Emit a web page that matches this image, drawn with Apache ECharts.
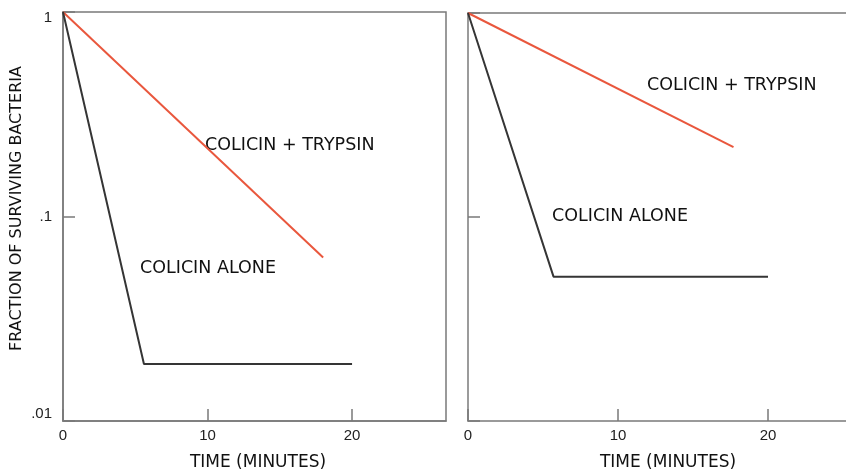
<!DOCTYPE html>
<html>
<head>
<meta charset="utf-8">
<script src="https://cdn.jsdelivr.net/npm/echarts@6/dist/echarts.min.js"></script>
<style>
  html, body { margin: 0; padding: 0; background: #fff; }
  #chart { width: 846px; height: 471px; }
</style>
</head>
<body>
<div id="chart"></div>
<script>
// data: [time in minutes, fraction surviving]
var leftTrypsin = [[0, 1], [18, 0.063]]
var leftAlone = [[0, 1], [5.6, 0.019], [20, 0.019]]
var rightTrypsin = [[0, 1], [17.7, 0.22]]
var rightAlone = [[0, 1], [5.7, 0.051], [20, 0.051]]
var yTicks = { 1: '{hi|1}', 0.1: '.1', 0.01: '{lo|.01}' }

var font = '"Liberation Sans", Arial, sans-serif'
var wideFont = '"DejaVu Sans", sans-serif'
var red = '#e9573d'
var dark = '#353535'
var boxColor = '#7a7a7a'

function xAxis (idx, max, shift) {
    return {
        type: 'value',
        gridIndex: idx,
        min: 0,
        max: max,
        interval: 10,
        axisLine: { show: true, lineStyle: { color: boxColor, width: 1.5 } },
        axisTick: { show: true, inside: true, length: 12, lineStyle: { color: boxColor, width: 1.5 } },
        axisLabel: {
            show: true, showMaxLabel: false, color: '#222', fontSize: 15,
            fontFamily: font, margin: 7
        },
        splitLine: { show: false },
        name: 'TIME (MINUTES)',
        nameLocation: 'middle',
        nameGap: 33,
        nameTextStyle: { color: '#111', fontSize: 17, fontFamily: wideFont, padding: [0, 0, 0, shift] }
    }
}

function yAxis (idx, showLabels) {
    return {
        type: 'log',
        logBase: 10,
        gridIndex: idx,
        min: 0.01,
        max: 1,
        axisLine: { show: true, lineStyle: { color: boxColor, width: 1.5 } },
        axisTick: { show: true, inside: true, length: 12, lineStyle: { color: boxColor, width: 1.5 } },
        axisLabel: {
            show: showLabels, color: '#222', fontSize: 15, fontFamily: font, margin: 11,
            formatter: function (v) { return yTicks[v] !== undefined ? yTicks[v] : '' },
            rich: {
                hi: { fontSize: 15, fontFamily: font, color: '#222', padding: [12, 0, 0, 0] },
                lo: { fontSize: 15, fontFamily: font, color: '#222', padding: [0, 0, 14, 0] }
            }
        },
        splitLine: { show: false },
        name: showLabels ? 'FRACTION OF SURVIVING BACTERIA' : '',
        nameLocation: 'middle',
        nameGap: 38,
        nameRotate: 90,
        nameTextStyle: { color: '#111', fontSize: 16, fontFamily: wideFont, padding: [0, 0, 0, 16] }
    }
}

function line (name, data, color, idx) {
    return {
        name: name,
        type: 'line',
        xAxisIndex: idx,
        yAxisIndex: idx,
        data: data,
        symbol: 'none',
        silent: true,
        lineStyle: { color: color, width: 2 }
    }
}

function label (text, x, y) {
    return {
        type: 'text',
        left: x,
        top: y,
        style: { text: text, fill: '#111', fontSize: 17.5, fontFamily: wideFont }
    }
}

var topLine = {
    type: 'value', gridIndex: 1, position: 'top', min: 0, max: 25.2,
    axisLine: { show: true, lineStyle: { color: boxColor, width: 1.5 } },
    axisTick: { show: false }, axisLabel: { show: false }, splitLine: { show: false }
}

var myChart = echarts.init(document.getElementById('chart'))
myChart.setOption({
    animation: false,
    grid: [
        { left: 63, top: 12, width: 383, height: 409, show: true, borderColor: boxColor, borderWidth: 1.5, outerBoundsMode: 'none' },
        { left: 468, top: 13, width: 378, height: 408, outerBoundsMode: 'none' }
    ],
    xAxis: [xAxis(0, 26.5, 7), xAxis(1, 25.2, 22), topLine],
    yAxis: [yAxis(0, true), yAxis(1, false)],
    series: [
        line('COLICIN + TRYPSIN', leftTrypsin, red, 0),
        line('COLICIN ALONE', leftAlone, dark, 0),
        line('COLICIN + TRYPSIN', rightTrypsin, red, 1),
        line('COLICIN ALONE', rightAlone, dark, 1)
    ],
    graphic: [
        label('COLICIN + TRYPSIN', 205, 136),
        label('COLICIN ALONE', 140, 259),
        label('COLICIN + TRYPSIN', 647, 76),
        label('COLICIN ALONE', 552, 207)
    ]
})
</script>
</body>
</html>
